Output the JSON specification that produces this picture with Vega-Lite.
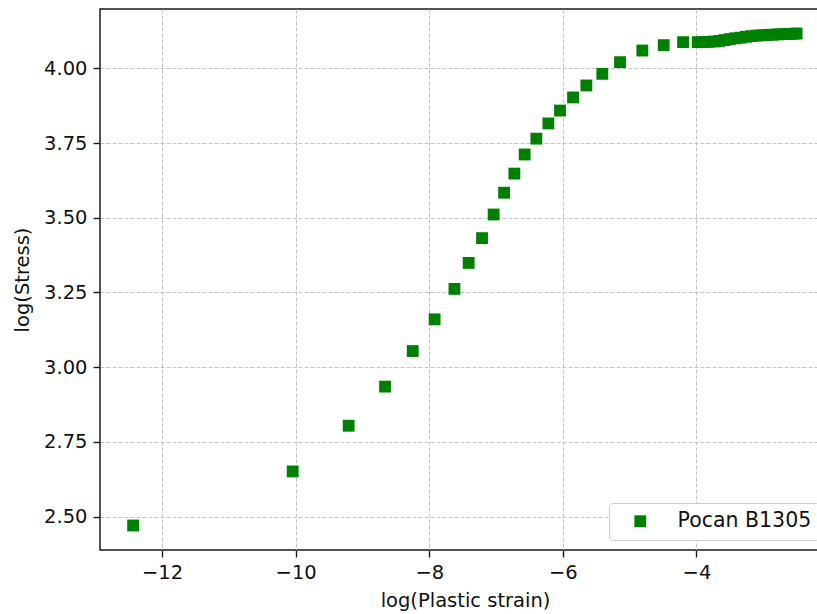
{
  "$schema": "https://vega.github.io/schema/vega-lite/v6.json",
  "width": 730,
  "height": 541,
  "autosize": {"type": "none"},
  "padding": {"left": 100, "top": 9, "right": 0, "bottom": 64},
  "background": "white",
  "config": {
    "font": "DejaVu Sans",
    "view": {"stroke": "#1a1a1a", "strokeWidth": 1.5},
    "axis": {
      "grid": true,
      "gridColor": "#c4c4c4",
      "gridDash": [4, 2],
      "gridWidth": 1,
      "domain": false,
      "tickColor": "#1a1a1a",
      "tickSize": 7,
      "tickWidth": 1.4,
      "labelFont": "DejaVu Sans",
      "labelFontSize": 19.5,
      "labelColor": "#111111",
      "labelPadding": 6,
      "titleFont": "DejaVu Sans",
      "titleFontSize": 19.5,
      "titleFontWeight": "normal",
      "titleColor": "#111111"
    }
  },
  "data": {
    "values": [
      {"strain": -12.434, "stress": 2.470, "series": "Pocan B1305"},
      {"strain": -10.045, "stress": 2.651, "series": "Pocan B1305"},
      {"strain": -9.207, "stress": 2.804, "series": "Pocan B1305"},
      {"strain": -8.662, "stress": 2.935, "series": "Pocan B1305"},
      {"strain": -8.248, "stress": 3.054, "series": "Pocan B1305"},
      {"strain": -7.92, "stress": 3.160, "series": "Pocan B1305"},
      {"strain": -7.623, "stress": 3.262, "series": "Pocan B1305"},
      {"strain": -7.41, "stress": 3.349, "series": "Pocan B1305"},
      {"strain": -7.21, "stress": 3.432, "series": "Pocan B1305"},
      {"strain": -7.036, "stress": 3.511, "series": "Pocan B1305"},
      {"strain": -6.88, "stress": 3.584, "series": "Pocan B1305"},
      {"strain": -6.726, "stress": 3.648, "series": "Pocan B1305"},
      {"strain": -6.572, "stress": 3.712, "series": "Pocan B1305"},
      {"strain": -6.397, "stress": 3.765, "series": "Pocan B1305"},
      {"strain": -6.217, "stress": 3.816, "series": "Pocan B1305"},
      {"strain": -6.042, "stress": 3.859, "series": "Pocan B1305"},
      {"strain": -5.847, "stress": 3.903, "series": "Pocan B1305"},
      {"strain": -5.648, "stress": 3.943, "series": "Pocan B1305"},
      {"strain": -5.409, "stress": 3.982, "series": "Pocan B1305"},
      {"strain": -5.144, "stress": 4.021, "series": "Pocan B1305"},
      {"strain": -4.81, "stress": 4.060, "series": "Pocan B1305"},
      {"strain": -4.49, "stress": 4.078, "series": "Pocan B1305"},
      {"strain": -4.20, "stress": 4.088, "series": "Pocan B1305"},
      {"strain": -3.98, "stress": 4.088, "series": "Pocan B1305"},
      {"strain": -3.90, "stress": 4.088, "series": "Pocan B1305"},
      {"strain": -3.82, "stress": 4.089, "series": "Pocan B1305"},
      {"strain": -3.74, "stress": 4.090, "series": "Pocan B1305"},
      {"strain": -3.66, "stress": 4.092, "series": "Pocan B1305"},
      {"strain": -3.58, "stress": 4.095, "series": "Pocan B1305"},
      {"strain": -3.50, "stress": 4.098, "series": "Pocan B1305"},
      {"strain": -3.42, "stress": 4.101, "series": "Pocan B1305"},
      {"strain": -3.34, "stress": 4.103, "series": "Pocan B1305"},
      {"strain": -3.26, "stress": 4.106, "series": "Pocan B1305"},
      {"strain": -3.18, "stress": 4.108, "series": "Pocan B1305"},
      {"strain": -3.10, "stress": 4.110, "series": "Pocan B1305"},
      {"strain": -3.02, "stress": 4.111, "series": "Pocan B1305"},
      {"strain": -2.94, "stress": 4.112, "series": "Pocan B1305"},
      {"strain": -2.86, "stress": 4.113, "series": "Pocan B1305"},
      {"strain": -2.78, "stress": 4.114, "series": "Pocan B1305"},
      {"strain": -2.70, "stress": 4.115, "series": "Pocan B1305"},
      {"strain": -2.62, "stress": 4.115, "series": "Pocan B1305"},
      {"strain": -2.55, "stress": 4.116, "series": "Pocan B1305"},
      {"strain": -2.50, "stress": 4.117, "series": "Pocan B1305"}
    ]
  },
  "mark": {"type": "point", "shape": "square", "filled": true, "size": 140, "opacity": 1},
  "encoding": {
    "x": {
      "field": "strain",
      "type": "quantitative",
      "title": "log(Plastic strain)",
      "scale": {"domain": [-12.93, -2.0], "nice": false, "zero": false},
      "axis": {"values": [-12, -10, -8, -6, -4], "format": "d", "titlePadding": 10}
    },
    "y": {
      "field": "stress",
      "type": "quantitative",
      "title": "log(Stress)",
      "scale": {"domain": [2.388, 4.199], "nice": false, "zero": false},
      "axis": {"values": [2.5, 2.75, 3.0, 3.25, 3.5, 3.75, 4.0], "format": ".2f", "titlePadding": 11}
    },
    "color": {
      "field": "series",
      "type": "nominal",
      "scale": {"range": ["#008000"]},
      "legend": {
        "title": null,
        "orient": "bottom-right",
        "offset": 10,
        "fillColor": "white",
        "strokeColor": "#cccccc",
        "cornerRadius": 4,
        "padding": 8,
        "symbolType": "square",
        "symbolSize": 140,
        "symbolOffset": 13,
        "symbolStrokeWidth": 0,
        "labelOffset": 27,
        "labelFont": "DejaVu Sans",
        "labelFontSize": 20.5,
        "labelColor": "#111111"
      }
    }
  }
}
